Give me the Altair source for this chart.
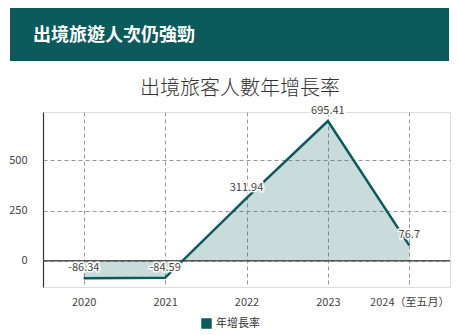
import altair as alt
import pandas as pd

years = ["2020", "2021", "2022", "2023", "2024（至五月）"]
rates = [-86.34, -84.59, 311.94, 695.41, 76.7]
labels = ["-86.34", "-84.59", "311.94", "695.41", "76.7"]
series_name = "年增長率"
header_text = "出境旅遊人次仍強勁"
chart_title = "出境旅客人數年增長率"

TEAL = "#0b5a5c"
FONT = "Noto Sans CJK TC"

df = pd.DataFrame({"year": years, "rate": rates, "label": labels, "series": [series_name] * len(years)})
one = pd.DataFrame({"t": [header_text], "c": [chart_title]})

x_enc = alt.X("year:N", sort=years, title=None,
              scale=alt.Scale(type="point", padding=0.5),
              axis=alt.Axis(grid=True, gridDash=[4, 3], gridColor="#999", domain=False, ticks=False,
                            labelAngle=0, labelPadding=9, labelFontSize=11, labelColor="#444", labelFont=FONT))
y_enc = alt.Y("rate:Q", title=None, scale=alt.Scale(domain=[-130, 740], nice=False, zero=False),
              axis=alt.Axis(values=[0, 250, 500], grid=True, gridDash=[4, 3], gridColor="#999",
                            domainColor="#333", domainWidth=1.2, ticks=False, labelPadding=16,
                            labelFontSize=11, labelColor="#444", labelFont=FONT))

base = alt.Chart(df)

area = base.mark_area(color=TEAL, opacity=0.22).encode(x=x_enc, y=y_enc, y2=alt.datum(0))
zero = alt.Chart(one).mark_rule(color="#555", strokeWidth=1.5).encode(y=alt.datum(0))
line = base.mark_line(strokeWidth=2.5).encode(
    x="year:N", y="rate:Q",
    color=alt.Color("series:N", scale=alt.Scale(range=[TEAL]),
                    legend=alt.Legend(title=None, orient="none", legendX=158, legendY=206, padding=0,
                                      symbolType="square", symbolFillColor=TEAL, symbolStrokeWidth=0,
                                      symbolSize=110, labelFontSize=11, labelColor="#333", labelFont=FONT)))
halo = base.mark_text(dy=-10, fontSize=11, font=FONT, color="white", stroke="white", strokeWidth=3).encode(
    x="year:N", y="rate:Q", text="label:N")
txt = base.mark_text(dy=-10, fontSize=11, font=FONT, color="#444").encode(
    x="year:N", y="rate:Q", text="label:N")

banner = alt.Chart(one).mark_rect(color=TEAL).encode(
    x=alt.value(-33), x2=alt.value(406), y=alt.value(-104), y2=alt.value(-51))
banner_text = alt.Chart(one).mark_text(align="left", baseline="middle", font=FONT, fontSize=18,
                                       fontWeight="bold", color="white").encode(
    x=alt.value(-10), y=alt.value(-76), text="t:N")
title_text = alt.Chart(one).mark_text(align="center", baseline="middle", font=FONT, fontSize=20,
                                      fontWeight=300, color="#333").encode(
    x=alt.value(197), y=alt.value(-23), text="c:N")

chart = alt.layer(area, zero, line, halo, txt, banner, banner_text, title_text).properties(
    width=407, height=175,
    padding={"left": 43, "top": 112, "right": 8, "bottom": 48},
    autosize=alt.AutoSizeParams(type="none"),
).configure_view(stroke=None).configure(background="white")

chart.save("out.html", embed_options={"renderer": "svg", "actions": False})
